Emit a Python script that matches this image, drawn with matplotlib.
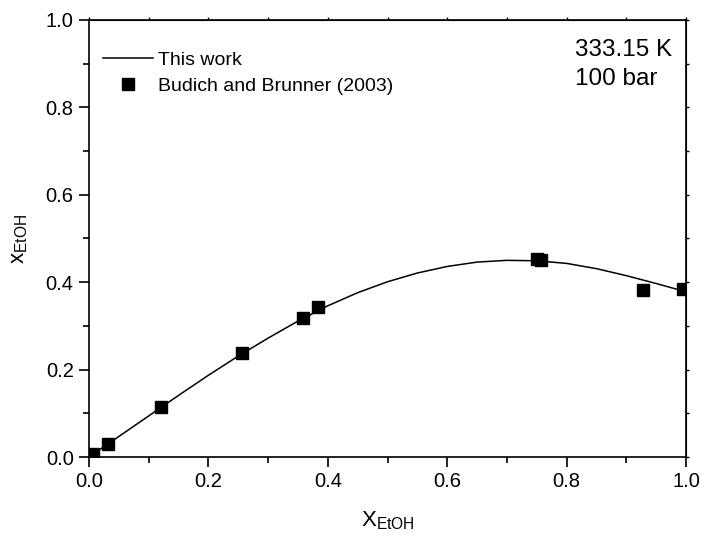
import numpy as np
import matplotlib.pyplot as plt
from matplotlib.ticker import MultipleLocator, NullFormatter

plt.rcParams['font.family'] = ['Liberation Sans', 'DejaVu Sans']
plt.rcParams['mathtext.fontset'] = 'custom'
plt.rcParams['mathtext.rm'] = 'Liberation Sans'
plt.rcParams['mathtext.it'] = 'Liberation Sans'

# model curve (this work)
model_x = [0.0, 0.05, 0.1, 0.15, 0.2, 0.25, 0.3, 0.35, 0.4, 0.45, 0.5,
           0.55, 0.6, 0.65, 0.7, 0.75, 0.8, 0.85, 0.9, 0.95, 1.0]
model_y = [0.0, 0.047, 0.094, 0.141, 0.187, 0.231, 0.272, 0.311, 0.346, 0.376, 0.401,
           0.421, 0.436, 0.446, 0.450, 0.449, 0.443, 0.431, 0.415, 0.397, 0.378]

# Budich and Brunner (2003)
exp_x = [0.007, 0.032, 0.121, 0.256, 0.358, 0.383, 0.751, 0.757, 0.928, 0.995]
exp_y = [0.007, 0.030, 0.115, 0.238, 0.318, 0.343, 0.453, 0.450, 0.382, 0.385]

fig = plt.figure(figsize=(7.02, 5.40), dpi=100)
ax = fig.add_axes([0.1268, 0.1537, 0.8504, 0.8093])

ax.plot(model_x, model_y, color='black', linewidth=1.1, label='This work')
ax.plot(exp_x, exp_y, 's', color='black', markersize=8, label='Budich and Brunner (2003)')

ax.set_xlim(0, 1)
ax.set_ylim(0, 1)
ax.xaxis.set_major_locator(MultipleLocator(0.2))
ax.xaxis.set_minor_locator(MultipleLocator(0.1))
ax.yaxis.set_major_locator(MultipleLocator(0.2))
ax.yaxis.set_minor_locator(MultipleLocator(0.1))
ax.tick_params(which='major', direction='out', length=7, width=1.2, labelsize=14.5, pad=4)
ax.tick_params(which='minor', direction='out', length=4, width=1.2)
for sp in ax.spines.values():
    sp.set_linewidth(1.2)

# short mirrored ticks on top and right
top = ax.secondary_xaxis('top')
right = ax.secondary_yaxis('right')
for sec in (top, right):
    sec.tick_params(which='both', direction='out', length=2.5, width=1.0)
top.xaxis.set_major_locator(MultipleLocator(0.2))
top.xaxis.set_minor_locator(MultipleLocator(0.1))
top.xaxis.set_major_formatter(NullFormatter())
right.yaxis.set_major_locator(MultipleLocator(0.2))
right.yaxis.set_minor_locator(MultipleLocator(0.1))
right.yaxis.set_major_formatter(NullFormatter())

ax.set_xlabel(r'X$_{\mathrm{EtOH}}$', fontsize=16, labelpad=13)
ax.set_ylabel(r'x$_{\mathrm{EtOH}}$', fontsize=16, labelpad=11)

ax.text(0.814, 0.931, '333.15 K', transform=ax.transAxes, fontsize=17.5,
        va='center', ha='left')
ax.text(0.814, 0.865, '100 bar', transform=ax.transAxes, fontsize=17.5,
        va='center', ha='left')

ax.legend(loc='upper left', frameon=False, fontsize=14, handlelength=2.6,
          handletextpad=0.25, borderaxespad=0.3, labelspacing=0.45,
          bbox_to_anchor=(0.0, 0.96))

fig.savefig('out.png', dpi=100)
